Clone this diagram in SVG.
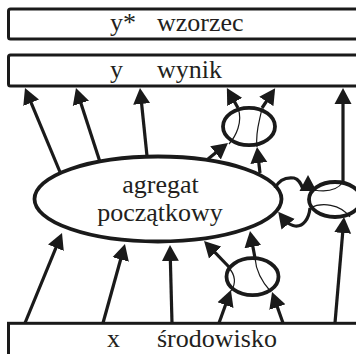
<svg xmlns="http://www.w3.org/2000/svg" width="356" height="354" viewBox="0 0 356 354">
  <style>
    .box { fill: #fff; stroke: #1a1a1a; stroke-width: 3; }
    .node { fill: #fff; stroke: #1a1a1a; stroke-width: 3.8; }
    .edge { fill: none; stroke: #1a1a1a; stroke-width: 3.2; marker-end: url(#head); }
    .loop { fill: none; stroke: #1a1a1a; stroke-width: 3.2; }
    .thin { fill: none; stroke: #1a1a1a; stroke-width: 1.2; }
    text { font-family: "Liberation Serif", "Times New Roman", serif; font-size: 26px; fill: #231f20; }
  </style>
  <defs>
    <marker id="head" viewBox="0 -9 16 18" markerWidth="16" markerHeight="18" refX="11" refY="0" orient="auto" markerUnits="userSpaceOnUse">
      <path d="M0,-8.5 L16,0 L0,8.5 Z" fill="#1a1a1a"/>
    </marker>
  </defs>

  <!-- reference output -->
  <g id="wzorzec">
    <rect class="box" x="8.5" y="9" width="360" height="30" rx="2"/>
    <text x="110" y="31">y*</text>
    <text x="157" y="31">wzorzec</text>
  </g>

  <!-- system output -->
  <g id="wynik">
    <rect class="box" x="8.5" y="55" width="360" height="31" rx="2"/>
    <text x="110" y="78">y</text>
    <text x="157" y="78">wynik</text>
  </g>

  <!-- environment -->
  <g id="srodowisko">
    <rect class="box" x="8.5" y="323.3" width="360" height="45"/>
    <text x="107" y="347">x</text>
    <text x="157" y="347">środowisko</text>
  </g>

  <!-- initial aggregate -->
  <g id="agregat">
    <ellipse class="node" cx="158" cy="199" rx="123.5" ry="42.5"/>
    <text x="160.5" y="193" text-anchor="middle">agregat</text>
    <text x="160" y="220.5" text-anchor="middle">początkowy</text>
  </g>

  <!-- small sub-aggregates -->
  <g id="podagregat-gorny">
    <ellipse class="node" cx="249" cy="126.5" rx="26" ry="18.7"/>
  </g>
  <g id="podagregat-prawy">
    <ellipse class="node" cx="335" cy="199.5" rx="26" ry="17.5"/>
  </g>
  <g id="podagregat-dolny">
    <ellipse class="node" cx="252.5" cy="276.7" rx="26" ry="18.5"/>
  </g>

  <g id="connectors">
    <!-- aggregate to output -->
    <path class="edge" d="M60,172 L26.9,92.6"/>
    <path class="edge" d="M100,162 L77.5,92.8"/>
    <path class="edge" d="M147,156 L140.5,93"/>
    <!-- upper sub-aggregate -->
    <path class="edge" d="M208,159 L224.1,146.1"/>
    <path class="edge" d="M260,173 L257.6,152"/>
    <path class="edge" d="M238,108 L229.3,92.4"/>
    <path class="edge" d="M262,108 L272.4,92.3"/>
    <path class="thin" d="M229,144 C236,136 243,122 238,108"/>
    <path class="thin" d="M257,147 C255,132 260,120 262,108"/>
    <!-- right sub-aggregate -->
    <path class="edge" d="M343,183 L343,93"/>
    <path class="loop" d="M275,188 C279,180 286,177 294,178 C299,179 301,184 303,189"/>
    <path class="edge" d="M308,190 L308,180"/>
    <path class="thin" d="M314,190 C325,192 336,192 343,182"/>
    <path class="edge" d="M310,208 C309,219 303,227 295,226 C291,225.5 288,223 285.5,221 L281.3,215.7"/>
    <path class="thin" d="M310,208 C322,202 340,204 350,217"/>
    <path class="edge" d="M335,323 L343.6,222"/>
    <!-- environment to aggregate -->
    <path class="edge" d="M25,323 L60.1,237.6"/>
    <path class="edge" d="M103,323 L123.6,248.8"/>
    <path class="edge" d="M172,323 L170.1,250"/>
    <!-- lower sub-aggregate -->
    <path class="edge" d="M219,323 L229.2,294.7"/>
    <path class="edge" d="M283,323 L273.7,296.7"/>
    <path class="edge" d="M229,267 L207.5,244.6"/>
    <path class="edge" d="M255,258 L250.9,235.9"/>
    <path class="thin" d="M228,267 C236,275 236,284 231,291"/>
    <path class="thin" d="M255,258 C256,272 262,282 271,292"/>
  </g>
</svg>
